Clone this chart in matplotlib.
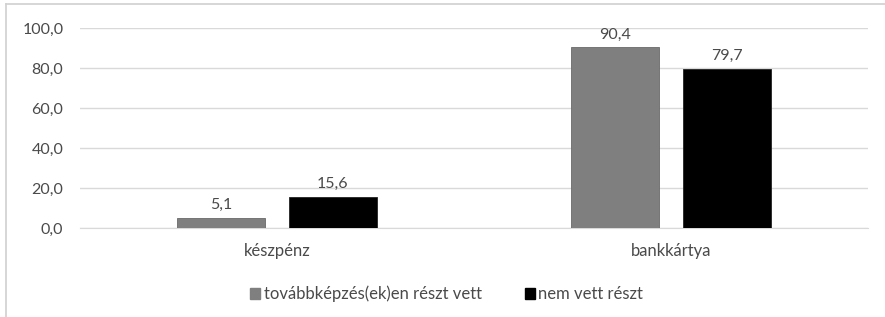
import numpy as np
import matplotlib
matplotlib.use("Agg")
import matplotlib.pyplot as plt
from matplotlib.patches import Patch
from matplotlib.lines import Line2D

plt.rcParams['font.family'] = ['Lato', 'DejaVu Sans']

# data
categories = ["készpénz", "bankkártya"]
series_names = ["továbbképzés(ek)en részt vett", "nem vett részt"]
trained = [5.1, 90.4]
not_trained = [15.6, 79.7]
yticks = [0, 20, 40, 60, 80, 100]

colors = ["#7f7f7f", "#000000"]
text_col = "#4a4a4a"

fig = plt.figure(figsize=(8.85, 3.17), dpi=100)
ax = fig.add_axes([0.0904, 0.2808, 0.8904, 0.631])

x = np.arange(len(categories)) + 0.5
w = 0.223
off = 0.142
b1 = ax.bar(x - off, trained, w, color=colors[0], edgecolor="#6a6a6a", linewidth=0.6, zorder=3)
b2 = ax.bar(x + off, not_trained, w, color=colors[1], edgecolor="#222222", linewidth=0.6, zorder=3)

for bars in (b1, b2):
    for r in bars:
        ax.annotate(f"{r.get_height():.1f}".replace(".", ","),
                    (r.get_x() + r.get_width() / 2, r.get_height()),
                    xytext=(0, 4), textcoords="offset points",
                    ha="center", va="bottom", fontsize=11.5, color=text_col)

ax.set_xlim(0, 2)
ax.set_ylim(0, 100)
ax.set_yticks(yticks)
ax.set_yticklabels([f"{v:.1f}".replace(".", ",") for v in yticks])
ax.set_xticks(x)
ax.set_xticklabels(categories, fontsize=12)
ax.tick_params(length=0, labelcolor=text_col)
ax.tick_params(axis="y", pad=12, labelsize=11.5)
ax.tick_params(axis="x", pad=11)
ax.yaxis.grid(True, color="#d9d9d9", linewidth=1, zorder=0)
ax.set_axisbelow(True)
for s in ax.spines.values():
    s.set_visible(False)
ax.spines["bottom"].set_visible(True)
ax.spines["bottom"].set_color("#d9d9d9")

handles = [Patch(facecolor=colors[0], edgecolor=colors[0]),
           Patch(facecolor=colors[1], edgecolor=colors[1])]
fig.legend(handles, series_names, loc="center", bbox_to_anchor=(0.505, 0.073),
           ncol=2, frameon=False, fontsize=12, labelcolor=text_col,
           handlelength=0.6, handleheight=0.6, handletextpad=0.2, columnspacing=2.6)

# chart border (cut off on the right and bottom)
fig.add_artist(Line2D([0.007, 1.0], [0.987, 0.987], color="#d0d0d0", lw=1.2))
fig.add_artist(Line2D([0.007, 0.007], [0.0, 0.987], color="#d0d0d0", lw=1.2))

fig.savefig("out.png", dpi=100)
